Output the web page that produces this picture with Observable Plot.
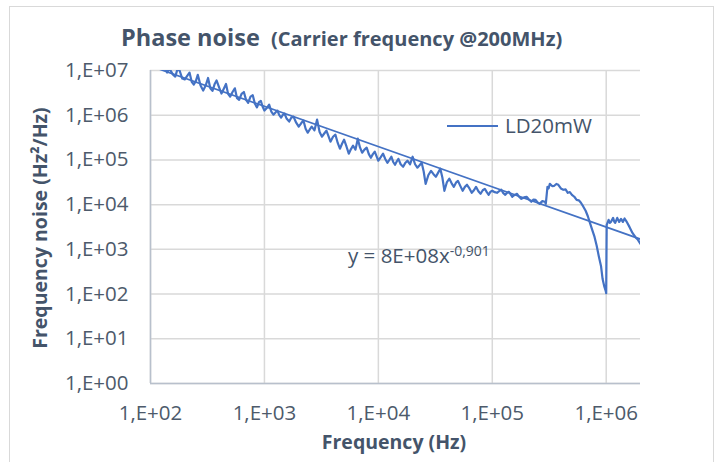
<!DOCTYPE html>
<html>
<head>
<meta charset="utf-8">
<script src="https://cdn.jsdelivr.net/npm/d3@7"></script>
<script src="https://cdn.jsdelivr.net/npm/@observablehq/plot@0.6"></script>
<style>
html, body { margin: 0; padding: 0; background: #fff; width: 721px; height: 462px; overflow: hidden; font-family: "Open Sans", sans-serif; }
#frame { position: absolute; left: 9px; top: 6px; width: 705px; height: 490px; border: 1px solid #d9d9d9; box-sizing: border-box; }
#chart { position: absolute; left: 0; top: 0; }
.t { position: absolute; color: #44546a; white-space: nowrap; line-height: 1; }
</style>
</head>
<body>
<div id="frame"></div>
<div id="chart"></div>
<div class="t" id="title1" style="left:121px; top:25.8px; font-size:23.5px; font-weight:700;"></div>
<div class="t" id="title2" style="left:271px; top:29px; font-size:20px; font-weight:700;"></div>
<div class="t" id="ytitle" style="left:39.5px; top:228px; font-size:19.5px; font-weight:700; transform: translate(-50%,-50%) rotate(-90deg);"></div>
<div class="t" id="xtitle" style="left:394px; top:431.5px; font-size:19.5px; font-weight:700; transform: translateX(-50%);"></div>
<div id="legline" style="position:absolute; left:447px; top:125px; width:51px; height:2px; background:#4472c4;"></div>
<div class="t" id="legtext" style="left:505px; top:114.8px; font-size:20.5px;"></div>
<div class="t" id="eq" style="left:348px; top:243.8px; font-size:20.5px;"></div>
<script>
// ---- data, one pair of arrays per decade ----
const freqD2 = [100,105,110,115,120,125,130,135,140,145,150,157,165,172,180,190,200,210,220,230,240,250,260,275,290,305,320,335,350,365,380,400,420,440,460,480,500,525,550,575,600,630,660,690,720,755,790,825,860,895,930,965];
const noiseD2 = [1.67e7,1.5e7,1.44e7,1.3e7,1.23e7,1.15e7,1.05e7,1.1e7,9.0e6,1.05e7,1.0e7,8.2e6,7.3e6,1.05e7,1.0e7,6.6e6,6.3e6,7.6e6,9.0e6,5.6e6,4.85e6,5.8e6,8.0e6,4.6e6,3.56e6,4.6e6,6.8e6,4.0e6,3.5e6,4.9e6,6.0e6,4.2e6,3.05e6,3.9e6,5.0e6,3.0e6,2.6e6,3.3e6,4.0e6,2.4e6,2.2e6,3.0e6,3.3e6,2.2e6,1.9e6,2.6e6,2.8e6,1.8e6,1.5e6,1.95e6,2.1e6,1.55e6];

const freqD3 = [1000,1050,1100,1150,1200,1250,1300,1350,1400,1450,1500,1570,1650,1720,1800,1900,2000,2100,2200,2300,2400,2500,2600,2750,2900,3050,3200,3350,3500,3650,3800,4000,4200,4400,4600,4800,5000,5250,5500,5750,6000,6300,6600,6900,7200,7550,7900,8250,8600,8950,9300,9650];
const noiseD3 = [1.27e6,1.45e6,1.73e6,1.2e6,1.03e6,1.15e6,1.27e6,1.0e6,8.8e5,1.02e6,1.09e6,8.3e5,7.2e5,8.8e5,9.3e5,6.8e5,5.55e5,6.6e5,7.6e5,5.0e5,4.07e5,4.8e5,5.55e5,4.6e5,7.97e5,4.2e5,3.31e5,3.9e5,4.5e5,3.4e5,2.56e5,3.3e5,3.67e5,2.4e5,1.78e5,2.3e5,2.84e5,2.0e5,1.38e5,1.75e5,2.08e5,1.7e5,2.99e5,1.9e5,1.45e5,1.7e5,1.88e5,1.35e5,1.12e5,1.35e5,1.53e5,1.2e5];

const freqD4 = [10000,10500,11000,11500,12000,12500,13000,13500,14000,14500,15000,15700,16500,17200,18000,19000,20000,21000,22000,23000,24000,25000,26000,27500,29000,30500,32000,33500,35000,36500,38000,40000,42000,44000,46000,48000,50000,52500,55000,57500,60000,63000,66000,69000,72000,75500,79000,82500,86000,89500,93000,96500];
const noiseD4 = [9.6e4,1.15e5,1.38e5,1.05e5,8.65e4,1.0e5,1.18e5,9.0e4,7.8e4,9.2e4,1.06e5,8.0e4,7.05e4,8.5e4,9.6e4,8.0e4,1.18e5,8.0e4,6.7e4,7.6e4,8.65e4,5.5e4,2.92e4,4.6e4,5.7e4,4.8e4,4.2e4,5.2e4,6.35e4,4.0e4,2.04e4,3.2e4,3.8e4,3.0e4,2.5e4,3.1e4,3.4e4,2.6e4,2.04e4,2.5e4,2.78e4,2.3e4,1.84e4,2.1e4,2.5e4,2.0e4,1.75e4,2.1e4,2.26e4,1.9e4,1.66e4,1.95e4];

const freqD5 = [100000,105000,110000,115000,120000,125000,130000,135000,140000,145000,150000,157000,165000,172000,180000,190000,200000,210000,220000,230000,240000,250000,260000,275000,290000,295000,305000,312000,320000,335000,350000,365000,380000,400000,420000,440000,460000,480000,500000,525000,550000,575000,600000,630000,660000,690000,720000,755000,790000,825000,860000,900000,930000,960000,990000];
const noiseD5 = [2.04e4,1.9e4,1.84e4,2.0e4,2.15e4,1.8e4,1.66e4,1.85e4,1.94e4,1.7e4,1.5e4,1.65e4,1.75e4,1.5e4,1.35e4,1.45e4,1.5e4,1.3e4,1.16e4,1.3e4,1.28e4,1.12e4,1.04e4,1.2e4,1.16e4,1.04e4,2.5e4,2.3e4,2.92e4,2.6e4,2.64e4,2.9e4,2.78e4,2.3e4,2.15e4,2.2e4,1.84e4,1.9e4,1.66e4,1.5e4,1.28e4,1.25e4,1.1e4,9.0e3,7.3e3,5.5e3,3.9e3,2.7e3,1.9e3,1.2e3,711,425,217,151,117];

const freqD6 = [1000000,1010000,1050000,1075000,1100000,1150000,1175000,1200000,1250000,1300000,1350000,1400000,1450000,1500000,1600000,1700000,1800000,1900000,2000000];
const noiseD6 = [105,3.52e3,4.56e3,3.9e3,4.1e3,5.06e3,4.2e3,3.9e3,5.06e3,4.1e3,4.8e3,4.1e3,4.9e3,4.3e3,3.18e3,2.33e3,1.9e3,1.63e3,1.32e3];

// power-law trend line end points (y = 8E+08 x^-0,901)
const trendFreq = [100, 2000000];
const trendNoise = [12600000, 1690];

const xTicks = [1e2, 1e3, 1e4, 1e5, 1e6];
const xTickLabels = ["1,E+02", "1,E+03", "1,E+04", "1,E+05", "1,E+06"];
const yTicks = [1, 1e1, 1e2, 1e3, 1e4, 1e5, 1e6, 1e7];
const yTickLabels = ["1,E+00", "1,E+01", "1,E+02", "1,E+03", "1,E+04", "1,E+05", "1,E+06", "1,E+07"];

const titleMain = "Phase noise";
const titleSub = "(Carrier frequency @200MHz)";
const xTitle = "Frequency (Hz)";
const yTitle = "Frequency noise (Hz²/Hz)";
const seriesName = "LD20mW";
const eqMain = "y = 8E+08x";
const eqExp = "-0,901";

// ---- build ----
const freq = [].concat(freqD2, freqD3, freqD4, freqD5, freqD6);
const noise = [].concat(noiseD2, noiseD3, noiseD4, noiseD5, noiseD6);
const data = freq.map((f, i) => ({f, v: noise[i]}));
const trend = trendFreq.map((f, i) => ({f, v: trendNoise[i]}));
const blue = "#4472c4";

const chart = Plot.plot({
  width: 721,
  height: 462,
  marginLeft: 150,
  marginRight: 81,
  marginTop: 70,
  marginBottom: 79,
  style: {fontFamily: "'Open Sans', sans-serif", fontSize: "20.5px", color: "#4d5a6b", background: "transparent", overflow: "visible"},
  x: {type: "log", domain: [100, 2e6]},
  y: {type: "log", domain: [1, 1e7]},
  marks: [
    Plot.gridX(xTicks, {stroke: "#d9d9d9", strokeOpacity: 1, strokeWidth: 1.5}),
    Plot.gridY(yTicks, {stroke: "#d9d9d9", strokeOpacity: 1, strokeWidth: 1.5}),
    Plot.ruleX([xTicks[0]], {stroke: "#b8c0cc", strokeWidth: 1.5}),
    Plot.ruleY([yTicks[0]], {stroke: "#b8c0cc", strokeWidth: 1.5}),
    Plot.axisX(xTicks, {tickSize: 0, tickPadding: 22, label: null, tickFormat: d => xTickLabels[xTicks.indexOf(d)]}),
    Plot.axisY(yTicks, {tickSize: 0, tickPadding: 22, label: null, tickFormat: d => yTickLabels[yTicks.indexOf(d)]}),
    Plot.line(trend, {x: "f", y: "v", stroke: blue, strokeWidth: 1.7, clip: true}),
    Plot.line(data, {x: "f", y: "v", stroke: blue, strokeWidth: 2.2, strokeLinejoin: "round", clip: true})
  ]
});
document.getElementById("chart").appendChild(chart);
document.getElementById("title1").textContent = titleMain;
document.getElementById("title2").textContent = titleSub;
document.getElementById("xtitle").textContent = xTitle;
document.getElementById("ytitle").textContent = yTitle;
document.getElementById("legtext").textContent = seriesName;
const eq = document.getElementById("eq");
eq.textContent = eqMain;
const sup = document.createElement("span");
sup.textContent = eqExp;
sup.style.fontSize = "14px";
sup.style.verticalAlign = "7px";
eq.appendChild(sup);
</script>
</body>
</html>
